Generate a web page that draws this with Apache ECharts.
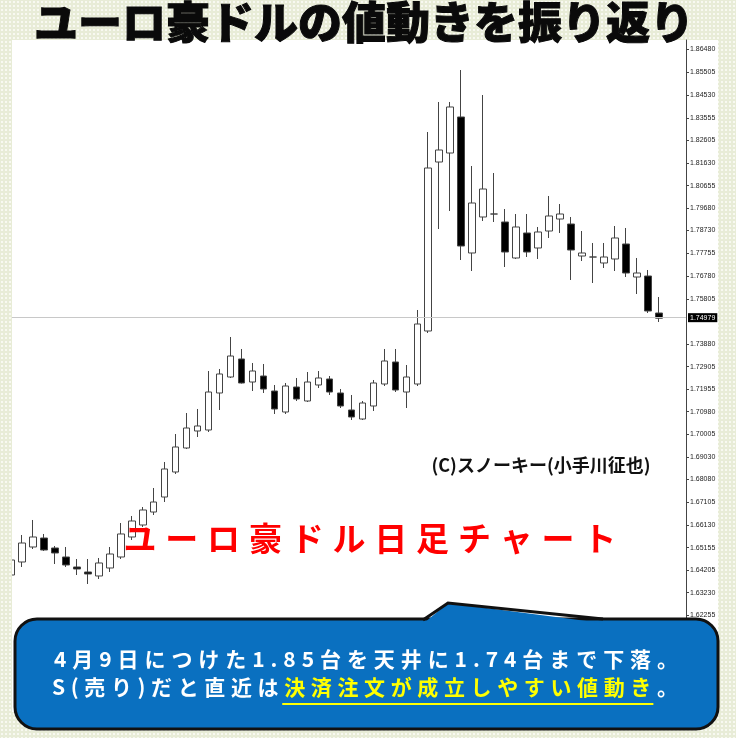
<!DOCTYPE html>
<html><head><meta charset="utf-8">
<script src="https://cdn.jsdelivr.net/npm/echarts@6/dist/echarts.min.js"></script>
<style>
html,body{margin:0;padding:0;}
body{width:736px;height:738px;position:relative;overflow:hidden;background-color:#e8ecd7;background-image:radial-gradient(circle,#f8f9f1 0.9px,transparent 1.3px);background-size:4px 4px;}
#paper{position:absolute;left:12px;top:40px;width:706px;height:672px;background:#fff;}
#edge{position:absolute;left:0;top:40px;width:12px;height:672px;background-color:#e8ecd7;background-image:radial-gradient(circle,#f8f9f1 0.9px,transparent 1.3px);background-size:4px 4px;z-index:5;}
#c{position:absolute;left:0;top:0;width:736px;height:738px;}
</style></head><body><div id="paper"></div><div id="c"></div><div id="edge"></div>
<script>
// ---- data (daily candles, EUR/AUD) ----
const candleIndex = [0,1,2,3,4,5,6,7,8,9,10,11,12,13,14,15,16,17,18,19,20,21,22,23,24,25,26,27,28,29,30,31,32,33,34,35,36,37,38,39,40,41,42,43,44,45,46,47,48,49,50,51,52,53,54,55,56,57,58,59];
const opens  = [1.63984,1.64541,1.65183,1.65568,1.65140,1.64755,1.64327,1.64113,1.63942,1.64284,1.64755,1.65611,1.66125,1.66681,1.67323,1.68394,1.69421,1.70149,1.70192,1.71776,1.72460,1.73231,1.72246,1.72503,1.71861,1.70962,1.72032,1.71433,1.72118,1.72375,1.71776,1.71048,1.70662,1.71219,1.72161,1.73103,1.71818,1.72161,1.74430,1.81664,1.82049,1.83591,1.77769,1.79310,1.79438,1.79096,1.77555,1.78625,1.77983,1.78710,1.79224,1.79010,1.77640,1.77597,1.77341,1.77512,1.78154,1.76741,1.76784,1.75200];
const closes = [1.64626,1.65354,1.65611,1.65055,1.64926,1.64413,1.64241,1.64027,1.64498,1.64883,1.65740,1.66296,1.66767,1.67109,1.68522,1.69464,1.70277,1.70363,1.71818,1.72589,1.73359,1.72204,1.72717,1.71947,1.71091,1.72075,1.71519,1.72246,1.72418,1.71818,1.71219,1.70748,1.71347,1.72204,1.73145,1.71904,1.72460,1.74729,1.81407,1.82178,1.84019,1.78068,1.79909,1.80508,1.79438,1.77811,1.78882,1.77811,1.78668,1.79353,1.79438,1.77897,1.77769,1.77597,1.77597,1.78411,1.76912,1.76912,1.75286,1.74979];
const lows   = [1.63856,1.64327,1.65097,1.65012,1.64455,1.64327,1.63984,1.63599,1.63813,1.64113,1.64669,1.65483,1.66039,1.66553,1.67109,1.68308,1.69378,1.69892,1.70106,1.71048,1.72418,1.72180,1.71861,1.71776,1.70877,1.70877,1.71433,1.71390,1.71990,1.71690,1.71133,1.70620,1.70620,1.71005,1.72075,1.71818,1.71133,1.72075,1.74344,1.78796,1.79567,1.77469,1.76998,1.79138,1.79096,1.77169,1.77512,1.77597,1.77512,1.78411,1.78625,1.76613,1.77426,1.76484,1.77127,1.76998,1.76741,1.76013,1.75200,1.74815];
const highs  = [1.64755,1.65697,1.66339,1.65740,1.65226,1.65183,1.64669,1.64669,1.64712,1.65183,1.66210,1.66510,1.66895,1.67709,1.68822,1.70020,1.70919,1.71091,1.72717,1.72803,1.74173,1.73659,1.73060,1.73017,1.72118,1.72204,1.72418,1.72674,1.72717,1.72503,1.71947,1.71690,1.71433,1.72332,1.73659,1.73659,1.72974,1.75329,1.82948,1.84233,1.84233,1.85602,1.81493,1.84532,1.81193,1.79652,1.79438,1.79438,1.78882,1.80209,1.79866,1.79310,1.78710,1.78197,1.78197,1.78924,1.78839,1.77555,1.77041,1.75885];
const tickValues = [1.86480,1.85505,1.84530,1.83555,1.82605,1.81630,1.80655,1.79680,1.78730,1.77755,1.76780,1.75805,1.73880,1.72905,1.71955,1.70980,1.70005,1.69030,1.68080,1.67105,1.66130,1.65155,1.64205,1.63230,1.62255];
const lastPrice = 1.74979;
const titleText = 'ユーロ豪ドルの値動きを振り返り';
const chartLabel = 'ユーロ豪ドル日足チャート';
const creditText = '(C)スノーキー(小手川征也)';
const calloutLine1 = '4月9日につけた1.85台を天井に1.74台まで下落。';
const calloutLine2a = 'S(売り)だと直近は';
const calloutLine2b = '決済注文が成立しやすい値動き';
const calloutLine2c = '。';

const candleData = candleIndex.map((x, i) => [x, opens[i], closes[i], lows[i], highs[i]]);

const JP = '"Noto Sans CJK JP"';
const graphics = [];

// title
graphics.push({type:'text', x:364, y:22, z:100, style:{text:titleText, textAlign:'center', textVerticalAlign:'middle', fontSize:44, fontWeight:900, fontFamily:JP, fill:'#0a0a0a', stroke:'#0a0a0a', lineWidth:1}});
// credit
graphics.push({type:'text', x:541, y:465, z:100, style:{text:creditText, textAlign:'center', textVerticalAlign:'middle', fontSize:18, fontWeight:'bold', fontFamily:JP, fill:'#111'}});
// red chart label (letter spaced)
Array.from(chartLabel).forEach((ch, i) => {
  graphics.push({type:'text', x:140 + i*41.8, y:538, z:100, style:{text:ch, textAlign:'center', textVerticalAlign:'middle', fontSize:33, fontWeight:'bold', fontFamily:JP, fill:'#ff0000'}});
});

// callout box
const blue = '#0a70c0';
graphics.push({type:'rect', z:100, shape:{x:15, y:619, width:703, height:110, r:22}, style:{fill:blue, stroke:'#111', lineWidth:3}});
graphics.push({type:'polygon', z:101, shape:{points:[[424,623],[448,603],[602,623]]}, style:{fill:blue}});
graphics.push({type:'polyline', z:102, shape:{points:[[423,620],[448,603],[603,619]]}, style:{stroke:'#111', lineWidth:3, fill:null}});

const mctx = document.createElement('canvas').getContext('2d');
function spaced(chars, colors, x0, x1, y, fs) {
  mctx.font = 'bold ' + fs + 'px ' + JP;
  const ws = chars.map(c => mctx.measureText(c).width);
  const total = ws.reduce((a, b) => a + b, 0);
  const gap = (x1 - x0 - total) / (chars.length - 1);
  let x = x0; const pos = [];
  chars.forEach((c, i) => {
    graphics.push({type:'text', x:x, y:y, z:103, style:{text:c, textAlign:'left', textVerticalAlign:'middle', fontSize:fs, fontWeight:'bold', fontFamily:JP, fill:colors[i]}});
    pos.push([x, x + ws[i]]);
    x += ws[i] + gap;
  });
  return pos;
}
const l1 = Array.from(calloutLine1);
spaced(l1, l1.map(() => '#fff'), 54, 678, 659, 21);
const l2 = Array.from(calloutLine2a + calloutLine2b + calloutLine2c);
const na = Array.from(calloutLine2a).length, nb = Array.from(calloutLine2b).length;
const pos2 = spaced(l2, l2.map((c, i) => (i >= na && i < na + nb) ? '#ffff00' : '#fff'), 52, 678, 687, 21);
graphics.push({type:'line', z:103, shape:{x1:pos2[na][0] - 2, y1:704, x2:pos2[na + nb - 1][1] + 2, y2:704}, style:{stroke:'#ffff00', lineWidth:2}});

const chart = echarts.init(document.getElementById('c'), null, {renderer:'canvas'});
chart.setOption({
  animation:false,
  backgroundColor:'transparent',
  grid:{left:12, right:50, top:40, bottom:38, containLabel:false},
  xAxis:{type:'value', min:0.091, max:61.475, show:false, splitLine:{show:false}},
  yAxis:{type:'value', position:'right', min:1.58633, max:1.86887, scale:true,
    splitLine:{show:false},
    axisLine:{show:true, lineStyle:{color:'#444', width:1}},
    axisTick:{show:true, customValues:tickValues, length:3, lineStyle:{color:'#444'}},
    axisLabel:{customValues:tickValues, formatter:v => v.toFixed(5), fontSize:7, fontFamily:'Liberation Sans', color:'#222', margin:4}
  },
  series:[{
    type:'candlestick', data:candleData, barWidth:7, clip:true,
    itemStyle:{color:'#ffffff', color0:'#000000', borderColor:'#444', borderColor0:'#444', borderWidth:1},
    markLine:{silent:true, symbol:'none', animation:false,
      lineStyle:{color:'#c8c8c8', type:'solid', width:1},
      label:{show:true, position:'end', distance:2, formatter:() => lastPrice.toFixed(5), backgroundColor:'#000', color:'#fff', fontSize:7, fontFamily:'Liberation Sans', padding:[1,2,1,2]},
      data:[{yAxis:lastPrice}]}
  }],
  graphic:graphics
});
</script></body></html>
